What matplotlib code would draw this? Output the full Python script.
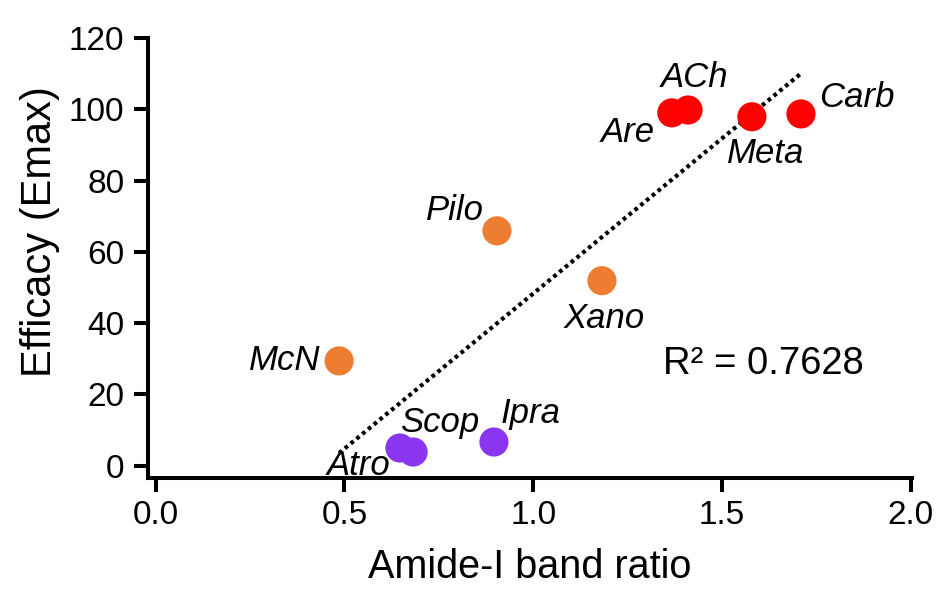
import numpy as np
import matplotlib
matplotlib.use("Agg")
from matplotlib import pyplot as plt

plt.rcParams.update({"font.family": ["Liberation Sans", "DejaVu Sans"]})

# drug names, amide-I band ratio, efficacy (Emax), group
names = ["Are", "ACh", "Meta", "Carb", "Pilo", "Xano", "McN", "Atro", "Scop", "Ipra"]
ratio = [1.367, 1.410, 1.579, 1.709, 0.904, 1.182, 0.486, 0.647, 0.682, 0.896]
emax = [99.0, 99.8, 97.9, 98.7, 65.9, 51.9, 29.4, 4.97, 3.84, 6.65]
group = ["full", "full", "full", "full", "partial", "partial", "partial",
         "antag", "antag", "antag"]
r2_text = "R\u00b2 = 0.7628"

colors = {"full": "#FF0000", "partial": "#ED7D31", "antag": "#8A35F0"}

# label offsets in pixels (dx, dy) from each marker
offsets = {
    "Are": (-44, -29), "ACh": (6, 23), "Meta": (14, -46), "Carb": (56, 7),
    "Pilo": (-42, 11), "Xano": (2, -47), "McN": (-54, -9),
    "Atro": (-41, -27), "Scop": (27, 20), "Ipra": (37, 19),
}

x = np.array(ratio)
y = np.array(emax)

fig = plt.figure(figsize=(9.39, 6.08), dpi=100)
ax = fig.add_axes([148 / 939, 1 - 478 / 608, 764 / 939, 440 / 608])

# linear fit, drawn across the data range
slope, icpt = np.polyfit(x, y, 1)
xf = np.array([x.min(), x.max()])
ax.plot(xf, slope * xf + icpt, color="black", lw=3.0, ls=(0, (0.9, 0.9)), zorder=2)

ax.scatter(x, y, s=440, c=[colors[g] for g in group], edgecolors="none", zorder=3)

for n, xi, yi in zip(names, x, y):
    dx, dy = offsets[n]
    ax.annotate(n, (xi, yi), xytext=(dx, dy), textcoords="offset pixels",
                ha="center", va="baseline", fontsize=25, style="italic")

ax.text(1.343, 25.7, r2_text, fontsize=27.5, ha="left", va="baseline")

ax.set_xlim(-0.02, 2.003)
ax.set_ylim(-3.45, 120)
ax.set_xticks([0.0, 0.5, 1.0, 1.5, 2.0])
ax.set_xticklabels(["0.0", "0.5", "1.0", "1.5", "2.0"])
ax.set_yticks([0, 20, 40, 60, 80, 100, 120])

for side in ["top", "right"]:
    ax.spines[side].set_visible(False)
for side in ["left", "bottom"]:
    ax.spines[side].set_linewidth(2.9)
ax.tick_params(axis="both", length=10, width=2.9, labelsize=24)
ax.tick_params(axis="x", pad=6)
ax.tick_params(axis="y", pad=7)

ax.set_xlabel("Amide-I band ratio", fontsize=28.5, labelpad=12)
ax.set_ylabel("Efficacy (Emax)", fontsize=30)
ax.yaxis.set_label_coords(-0.115, 0.559)

fig.savefig("out.png", dpi=100)
